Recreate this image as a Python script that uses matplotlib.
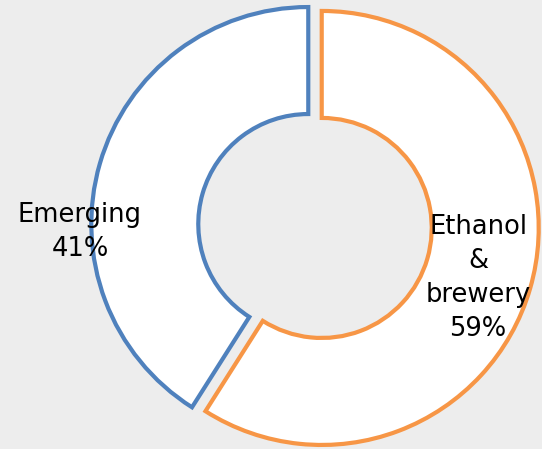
import matplotlib
matplotlib.use('Agg')
import matplotlib.pyplot as plt

# Segment data
labels = ['Emerging', 'Ethanol\n&\nbrewery']
shares = [41, 59]
colors = ['#4f81bd', '#f79646']
label_pos = [(80, 217), (478, 171)]

W, H = 542, 449
fig = plt.figure(figsize=(W / 100, H / 100), dpi=100)
fig.patch.set_facecolor('#ededed')
ax = fig.add_axes([0, 0, 1, 1])
ax.set_facecolor('#ededed')

# donut, exploded slightly, white fill with coloured outline
wedges, _ = ax.pie(shares, startangle=90, counterclock=True,
                   center=(315, 223), radius=217, explode=[7, 7],
                   wedgeprops=dict(width=107, facecolor='white',
                                   linewidth=3.0, joinstyle='miter'),
                   frame=True)
for w, c in zip(wedges, colors):
    w.set_edgecolor(c)

for lab, val, (x, y) in zip(labels, shares, label_pos):
    ax.text(x, y, '%s\n%d%%' % (lab, val), ha='center', va='center',
            fontsize=18.5, linespacing=1.4, color='black')

ax.set_xlim(0, W)
ax.set_ylim(0, H)
ax.set_aspect('equal')
ax.axis('off')

fig.savefig('out.png', dpi=100, facecolor=fig.get_facecolor())
